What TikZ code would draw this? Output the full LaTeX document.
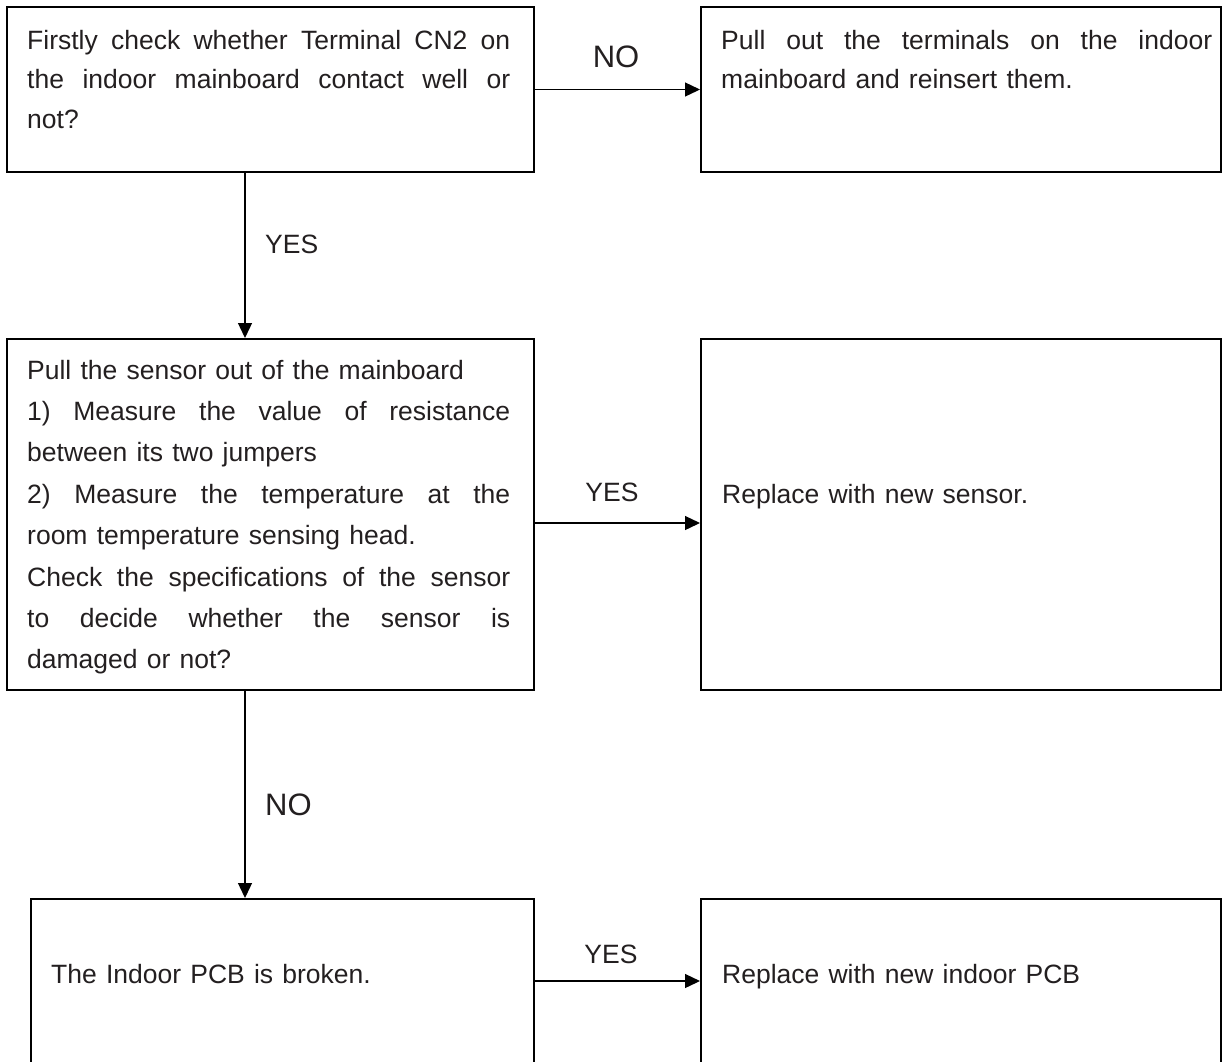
\documentclass[tikz,border=0pt]{standalone}
\usepackage{fontspec}
\setmainfont{Liberation Sans}[WordSpace=1.25]
\usetikzlibrary{arrows.meta}
\definecolor{ink}{HTML}{231F20}
\newcommand\jline[2]{\hbox to #1{#2}}
\begin{document}
\begin{tikzpicture}[x=1pt,y=-1pt,
  box/.style={draw=black, line width=2pt, inner sep=0pt, anchor=north west},
  conn/.style={draw=black, line width=1.3pt, -{Triangle[length=15pt,width=14pt]}},
  body/.style={anchor=base west, inner sep=0pt, text=ink, font=\fontsize{26.5}{41.4}\selectfont},
  lbl/.style={inner sep=0pt, text=ink, anchor=base},
  big/.style={font=\fontsize{31}{31}\selectfont},
  mid/.style={font=\fontsize{26.5}{26.5}\selectfont}]
\useasboundingbox (0,0) rectangle (1222,1061);
\clip (0,0) rectangle (1222,1061);
% boxes
\node[box, minimum width=526.5pt, minimum height=165pt] (b1) at (6,6) {};
\node[box, minimum width=520pt, minimum height=165pt] (b2) at (700,6) {};
\node[box, minimum width=526.5pt, minimum height=351pt] (b3) at (6,338) {};
\node[box, minimum width=520pt, minimum height=351pt] (b4) at (700,338) {};
\node[box, minimum width=502.5pt, minimum height=200pt] (b5) at (30,898) {};
\node[box, minimum width=520pt, minimum height=200pt] (b6) at (700,898) {};
% texts
\node[body] (t1) at (27,49) {\vtop{\baselineskip=39.5pt
  \jline{483pt}{Firstly check whether Terminal CN2 on}
  \jline{483pt}{the indoor mainboard contact well or}
  \hbox{not?}}};
\node[body] (t2) at (721,49) {\vtop{\baselineskip=39.5pt
  \jline{491pt}{Pull out the terminals on the indoor}
  \hbox{mainboard and reinsert them.}}};
\node[body] (t3) at (27,379) {\vtop{\baselineskip=41.4pt
  \hbox{Pull the sensor out of the mainboard}
  \jline{483pt}{1) Measure the value of resistance}
  \hbox{between its two jumpers}
  \jline{483pt}{2) Measure the temperature at the}
  \hbox{room temperature sensing head.}
  \jline{483pt}{Check the specifications of the sensor}
  \jline{483pt}{to decide whether the sensor is}
  \hbox{damaged or not?}}};
\node[body] (t4) at (722,503) {Replace with new sensor.};
\node[body] (t5) at (51,983) {The Indoor PCB is broken.};
\node[body] (t6) at (722,983) {Replace with new indoor PCB};
% connectors
\coordinate (vx) at (245,0);
\coordinate (y2) at (0,523);
\coordinate (y3) at (0,981);
\draw[conn] (b1.east) -- (b2.west);
\draw[conn] (b1.south -| vx) -- (b3.north -| vx);
\draw[conn] (b3.east |- y2) -- (b4.west |- y2);
\draw[conn] (b3.south -| vx) -- (b5.north -| vx);
\draw[conn] (b5.east |- y3) -- (b6.west |- y3);
% labels
\node[lbl, big] (l1) at (616,67) {NO};
\node[lbl, mid, anchor=base west] (l2) at (265,253) {YES};
\node[lbl, mid] (l3) at (612,501) {YES};
\node[lbl, big, anchor=base west] (l4) at (265,815) {NO};
\node[lbl, mid] (l5) at (611,963) {YES};
\end{tikzpicture}
\end{document}
